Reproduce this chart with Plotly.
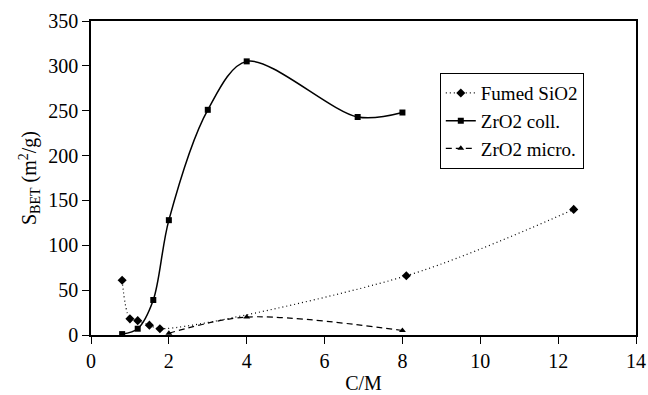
import plotly.graph_objects as go

# Surface area (S_BET, m2/g) versus C/M ratio
sio2_x = [0.8, 1.0, 1.2, 1.5, 1.77, 8.1, 12.4]
sio2_y = [61, 18, 16, 11, 7, 66, 140]

zr_coll_x = [0.8, 1.2, 1.6, 2.0, 3.0, 4.0, 6.85, 8.0]
zr_coll_y = [1, 7, 39, 128, 251, 305, 243, 248]

zr_micro_x = [2.0, 4.0, 8.0]
zr_micro_y = [2, 20, 5]

font_family = "Liberation Serif"

fig = go.Figure()
fig.add_trace(go.Scatter(
    x=sio2_x, y=sio2_y, name="Fumed SiO2", mode="lines+markers",
    line=dict(color="black", width=1.2, dash="1px,3px", shape="spline", smoothing=0.9),
    marker=dict(symbol="diamond", size=7, color="black"),
))
fig.add_trace(go.Scatter(
    x=zr_coll_x, y=zr_coll_y, name="ZrO2 coll.", mode="lines+markers",
    line=dict(color="black", width=1.5, shape="spline", smoothing=0.9),
    marker=dict(symbol="square", size=6, color="black"),
))
fig.add_trace(go.Scatter(
    x=zr_micro_x, y=zr_micro_y, name="ZrO2 micro.", mode="lines+markers",
    line=dict(color="black", width=1.2, dash="6px,4px", shape="spline", smoothing=0.9),
    marker=dict(symbol="triangle-up", size=6, color="black"),
))

axis_common = dict(
    showgrid=False, zeroline=False, showline=True, linecolor="black",
    linewidth=1.5, mirror=True, ticks="outside", ticklen=7, tickcolor="black",
    tickwidth=1, tickfont=dict(size=20, color="black", family=font_family),
    automargin=False,
)

fig.update_layout(
    width=648, height=395,
    margin=dict(l=91, r=12, t=21, b=60),
    plot_bgcolor="white", paper_bgcolor="white",
    font=dict(family=font_family, color="black", size=20),
    xaxis=dict(range=[0, 14], dtick=2,
               title=dict(text="C/M", font=dict(size=20, family=font_family), standoff=5),
               **axis_common),
    yaxis=dict(range=[0, 350], dtick=50,
               title=dict(text="S<sub>BET</sub> (m<sup>2</sup>/g)",
                          font=dict(size=20, family=font_family), standoff=6),
               **axis_common),
    legend=dict(x=0.64, y=0.834, xanchor="left", yanchor="top",
                bgcolor="white", bordercolor="black", borderwidth=1,
                font=dict(size=19, family=font_family), tracegroupgap=0,
                itemwidth=30),
    showlegend=True,
)

fig.write_html("out.html")
